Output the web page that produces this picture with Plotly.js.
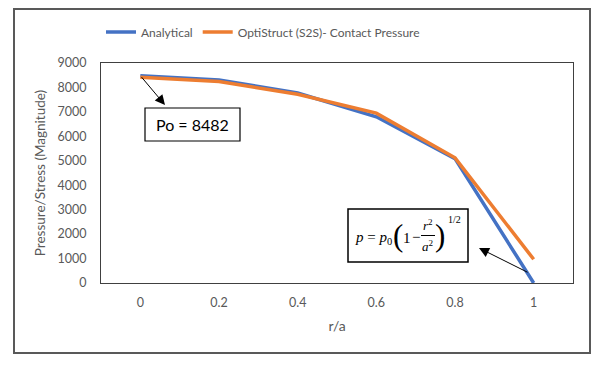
<!DOCTYPE html>
<html>
<head>
<meta charset="utf-8">
<script src="https://cdn.plot.ly/plotly-3.0.1.min.js"></script>
<style>
html,body{margin:0;padding:0;background:#fff;}
#chart{width:602px;height:369px;}
</style>
</head>
<body>
<div id="chart"></div>
<script>
// ---- data ----
const rOverA = [0, 0.2, 0.4, 0.6, 0.8, 1];
const xTickLabels = ['0', '0.2', '0.4', '0.6', '0.8', '1'];
const analytical = [8482, 8310, 7770, 6800, 5090, 0];
const optistruct = [8420, 8240, 7720, 6950, 5120, 970];
const yTicks = [0, 1000, 2000, 3000, 4000, 5000, 6000, 7000, 8000, 9000];
const seriesNames = ['Analytical', 'OptiStruct (S2S)- Contact Pressure'];
const p0Label = 'Po = 8482';

// ---- layout helpers (pixel -> paper / data) ----
const L = 101, T = 63, PW = 472, PH = 220;
const pxX = p => (p - L) / PW;
const pxY = p => (T + PH - p) / PH;
const dX = p => (p - L) / PW * 1.2 - 0.1;
const dY = p => (T + PH - p) / PH * 9000;

const grey = '#595959';
const serif = 'Liberation Serif, Times New Roman, serif';
const sans = 'Lato, Open Sans, sans-serif';

const traces = [
  {x: rOverA, y: analytical, name: seriesNames[0], type: 'scatter', mode: 'lines',
   line: {color: '#4472C4', width: 3.5}},
  {x: rOverA, y: optistruct, name: seriesNames[1], type: 'scatter', mode: 'lines',
   line: {color: '#ED7D31', width: 3.5}}
];

function txt(x, y, text, size, anchor, extra) {
  return Object.assign({xref: 'paper', yref: 'paper', x: pxX(x), y: pxY(y), text: text,
    showarrow: false, xanchor: anchor || 'center', yanchor: 'middle',
    font: {family: serif, size: size, color: '#000'}}, extra || {});
}

const annotations = [
  // Po label
  txt(192.5, 124.5, p0Label, 16, 'center', {font: {family: sans, size: 16, color: '#000'}}),
  // arrow from first point to Po box
  {xref: 'x', yref: 'y', axref: 'x', ayref: 'y', x: dX(165), y: dY(105),
   ax: rOverA[0], ay: analytical[0], text: '', showarrow: true,
   arrowhead: 2, arrowsize: 2, arrowwidth: 1, arrowcolor: '#000'},
  // arrow from last point to formula box
  {xref: 'x', yref: 'y', axref: 'x', ayref: 'y', x: dX(479), y: dY(248),
   ax: dX(529), ay: dY(273), text: '', showarrow: true,
   arrowhead: 2, arrowsize: 2, arrowwidth: 1, arrowcolor: '#000'},
  // formula pieces
  txt(353, 238, '<i>p</i> = <i>p</i><sub>0</sub>', 15, 'left'),
  txt(398, 235, '(', 31),
  txt(407, 238, '1', 15),
  txt(415.5, 237, '\u2212', 15),
  txt(428, 225, '<i>r</i><sup>2</sup>', 13),
  txt(428, 246, '<i>a</i><sup>2</sup>', 13),
  txt(440, 235, ')', 31),
  txt(454, 219, '1/2', 10)
];

const shapes = [
  // outer chart border
  {type: 'rect', xref: 'paper', yref: 'paper', x0: pxX(14), x1: pxX(590), y0: pxY(353), y1: pxY(9),
   line: {color: grey, width: 2}, fillcolor: 'rgba(0,0,0,0)'},
  // Po box
  {type: 'rect', xref: 'paper', yref: 'paper', x0: pxX(145), x1: pxX(240), y0: pxY(141), y1: pxY(108),
   line: {color: '#000', width: 1.2}, fillcolor: '#fff', layer: 'above'},
  // formula box
  {type: 'rect', xref: 'paper', yref: 'paper', x0: pxX(348), x1: pxX(468), y0: pxY(262), y1: pxY(209),
   line: {color: '#000', width: 1.5}, fillcolor: '#fff', layer: 'above'},
  // fraction bar
  {type: 'line', xref: 'paper', yref: 'paper', x0: pxX(421), x1: pxX(435), y0: pxY(235.5), y1: pxY(235.5),
   line: {color: '#000', width: 1}, layer: 'above'}
];

const layout = {
  width: 602, height: 369,
  margin: {l: L, r: 602 - L - PW, t: T, b: 369 - T - PH, pad: 0},
  paper_bgcolor: '#fff', plot_bgcolor: '#fff',
  font: {family: sans, size: 12, color: grey},
  showlegend: true,
  legend: {orientation: 'h', x: pxX(263), xanchor: 'center', y: pxY(32), yanchor: 'middle',
           font: {family: sans, size: 12, color: grey}, bgcolor: 'rgba(0,0,0,0)'},
  xaxis: {range: [-0.1, 1.1], tickvals: rOverA, ticktext: xTickLabels,
          showgrid: false, zeroline: false, showline: true, mirror: true,
          linecolor: '#404040', linewidth: 1, ticks: 'outside', ticklen: 8,
          tickcolor: 'rgba(0,0,0,0)', tickfont: {family: sans, size: 12.5, color: grey},
          title: {text: 'r/a', font: {family: sans, size: 14, color: grey}, standoff: 12}},
  yaxis: {range: [0, 9000], tickvals: yTicks, showgrid: false, zeroline: false,
          showline: true, mirror: true, linecolor: '#404040', linewidth: 1,
          ticks: 'outside', ticklen: 11, tickcolor: 'rgba(0,0,0,0)',
          tickfont: {family: sans, size: 12.5, color: grey},
          title: {text: 'Pressure/Stress (Magnitude)', font: {family: sans, size: 13.5, color: grey}, standoff: 8}},
  annotations: annotations,
  shapes: shapes
};

Plotly.newPlot('chart', traces, layout, {displayModeBar: false, staticPlot: true});
</script>
</body>
</html>
